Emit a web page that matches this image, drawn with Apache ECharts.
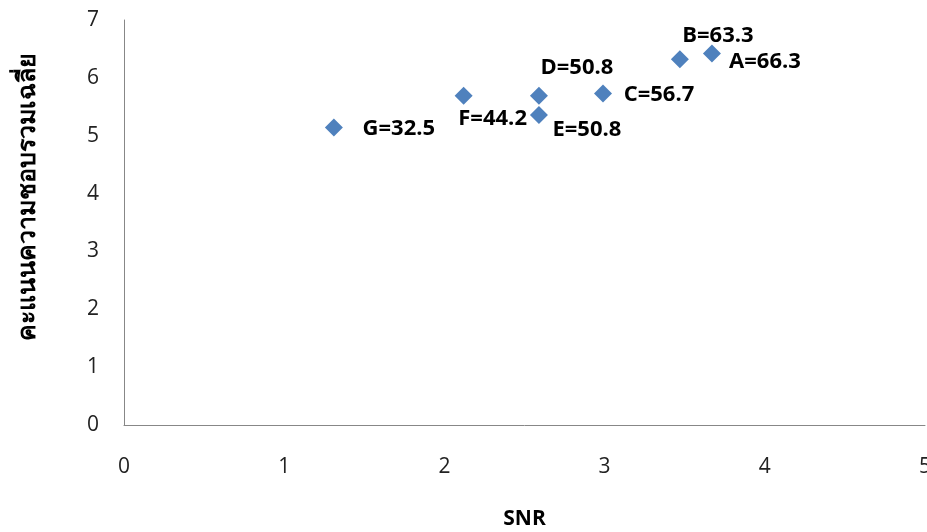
<!DOCTYPE html>
<html>
<head>
<meta charset="utf-8">
<script src="https://cdn.jsdelivr.net/npm/echarts@6/dist/echarts.min.js"></script>
<style>
html,body{margin:0;padding:0;background:#fff;}
#chart{width:927px;height:532px;}
</style>
</head>
<body>
<div id="chart"></div>
<script>
// Data
const names = ['A', 'B', 'C', 'D', 'E', 'F', 'G'];
const scores = [66.3, 63.3, 56.7, 50.8, 50.8, 44.2, 32.5];
const snr = [3.67, 3.47, 2.99, 2.59, 2.59, 2.12, 1.31];
const preference = [6.42, 6.32, 5.73, 5.69, 5.36, 5.69, 5.14];
const xTicks = [0, 1, 2, 3, 4, 5];
const yTicks = [0, 1, 2, 3, 4, 5, 6, 7];

// Label placement (offset of label centre from marker centre, px)
const labelOffsets = [[53, 8], [38, -24], [56, 1], [38, -28], [48, 15], [29, 23], [65, 1]];

const chart = echarts.init(document.getElementById('chart'));
const points = names.map((n, i) => ({
  value: [snr[i], preference[i]],
  name: n,
  label: { offset: labelOffsets[i] }
}));

chart.setOption({
  animation: false,
  backgroundColor: '#ffffff',
  grid: { left: 124, right: 2, top: 20, bottom: 107, containLabel: false, outerBoundsMode: 'none' },
  xAxis: {
    type: 'value',
    min: xTicks[0], max: xTicks[xTicks.length - 1], interval: 1,
    name: 'SNR',
    nameLocation: 'middle',
    nameGap: 84,
    nameTextStyle: { fontFamily: 'Open Sans', fontWeight: 'bold', fontSize: 21, color: '#000' },
    axisLine: { show: true, lineStyle: { color: '#878787', width: 1 } },
    axisTick: { show: false },
    splitLine: { show: false },
    axisLabel: { margin: 32, fontFamily: 'Open Sans', fontSize: 21, color: '#222' }
  },
  yAxis: {
    type: 'value',
    min: yTicks[0], max: yTicks[yTicks.length - 1], interval: 1,
    name: 'คะแนนความชอบรวมเฉลี่ย',
    nameLocation: 'middle',
    nameGap: 84,
    nameRotate: 90,
    nameTextStyle: { fontFamily: 'Noto Sans, DejaVu Sans, sans-serif', fontWeight: 'bold', fontSize: 25, color: '#000', padding: [0, 0, 0, 52] },
    axisLine: { show: true, lineStyle: { color: '#878787', width: 1 } },
    axisTick: { show: false },
    splitLine: { show: false },
    axisLabel: { margin: 25, fontFamily: 'Open Sans', fontSize: 21, color: '#222' }
  },
  series: [{
    type: 'scatter',
    symbol: 'diamond',
    symbolSize: 18,
    itemStyle: { color: '#4F81BD', opacity: 1 },
    data: points,
    label: {
      show: true,
      position: 'inside',
      formatter: p => p.name + '=' + scores[p.dataIndex].toFixed(1),
      fontFamily: 'Open Sans',
      fontWeight: 'bold',
      fontSize: 22,
      color: '#000'
    }
  }]
});
</script>
</body>
</html>
